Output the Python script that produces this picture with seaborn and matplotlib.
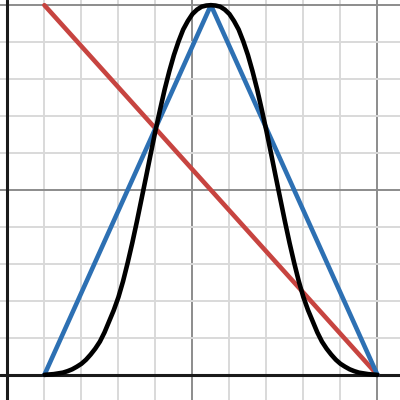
import matplotlib
matplotlib.use("Agg")
import matplotlib.pyplot as plt
import seaborn as sns

# straight line (red)
red_x = [1, 10]
red_y = [10, 0]

# triangle (blue)
blue_x = [1, 5.5, 10]
blue_y = [0, 10, 0]

# bell curve (black), values every 0.125
black_x = [1.0, 1.125, 1.25, 1.375, 1.5, 1.625, 1.75, 1.875, 2.0, 2.125, 2.25, 2.375,
           2.5, 2.625, 2.75, 2.875, 3.0, 3.125, 3.25, 3.375, 3.5, 3.625, 3.75, 3.875,
           4.0, 4.125, 4.25, 4.375, 4.5, 4.625, 4.75, 4.875, 5.0, 5.125, 5.25, 5.375,
           5.5,
           5.625, 5.75, 5.875, 6.0, 6.125, 6.25, 6.375, 6.5, 6.625, 6.75, 6.875, 7.0,
           7.125, 7.25, 7.375, 7.5, 7.625, 7.75, 7.875, 8.0, 8.125, 8.25, 8.375, 8.5,
           8.625, 8.75, 8.875, 9.0, 9.125, 9.25, 9.375, 9.5, 9.625, 9.75, 9.875, 10.0]
black_y = [0.0, 0.01, 0.02, 0.04, 0.06, 0.1, 0.15, 0.22, 0.3, 0.41, 0.55, 0.71,
           0.9, 1.15, 1.45, 1.75, 2.1, 2.53, 3.03, 3.57, 4.15, 4.76, 5.37, 5.99,
           6.6, 7.17, 7.72, 8.21, 8.65, 9.02, 9.34, 9.57, 9.76, 9.88, 9.96, 9.99,
           10.0,
           9.99, 9.96, 9.88, 9.76, 9.57, 9.34, 9.02, 8.65, 8.21, 7.72, 7.17, 6.6,
           5.99, 5.37, 4.76, 4.15, 3.57, 3.03, 2.53, 2.1, 1.75, 1.45, 1.15, 0.9,
           0.71, 0.55, 0.41, 0.3, 0.22, 0.15, 0.1, 0.06, 0.04, 0.02, 0.01, 0.0]

sns.set_style("white")

fig = plt.figure(figsize=(4, 4), dpi=100)
ax = fig.add_axes([0, 0, 1, 1])

# grid: minor every 1, major every 5
ax.set_xticks(range(0, 11, 5))
ax.set_yticks(range(0, 11, 5))
ax.set_xticks(range(0, 11), minor=True)
ax.set_yticks(range(0, 11), minor=True)
ax.grid(which="minor", color="#d9d9d9", linewidth=1.4)
ax.grid(which="major", color="#8c8c8c", linewidth=1.4)
ax.tick_params(which="both", length=0, labelbottom=False, labelleft=False)
for s in ax.spines.values():
    s.set_visible(False)

ax.axhline(0, color="#1a1a1a", linewidth=2.2, zorder=2)
ax.axvline(0, color="#1a1a1a", linewidth=2.2, zorder=2)

kw = dict(linewidth=3.3, solid_capstyle="round", solid_joinstyle="round", zorder=3)
sns.lineplot(x=red_x, y=red_y, color="#c74440", ax=ax, **kw)
sns.lineplot(x=blue_x, y=blue_y, color="#2d70b3", ax=ax, **kw)
sns.lineplot(x=black_x, y=black_y, color="#000000", ax=ax, **kw)

ax.set_xlim(-0.2, 10.61)
ax.set_ylim(-0.68, 10.14)
ax.set_xlabel("")
ax.set_ylabel("")

fig.savefig("out.png", dpi=100)
